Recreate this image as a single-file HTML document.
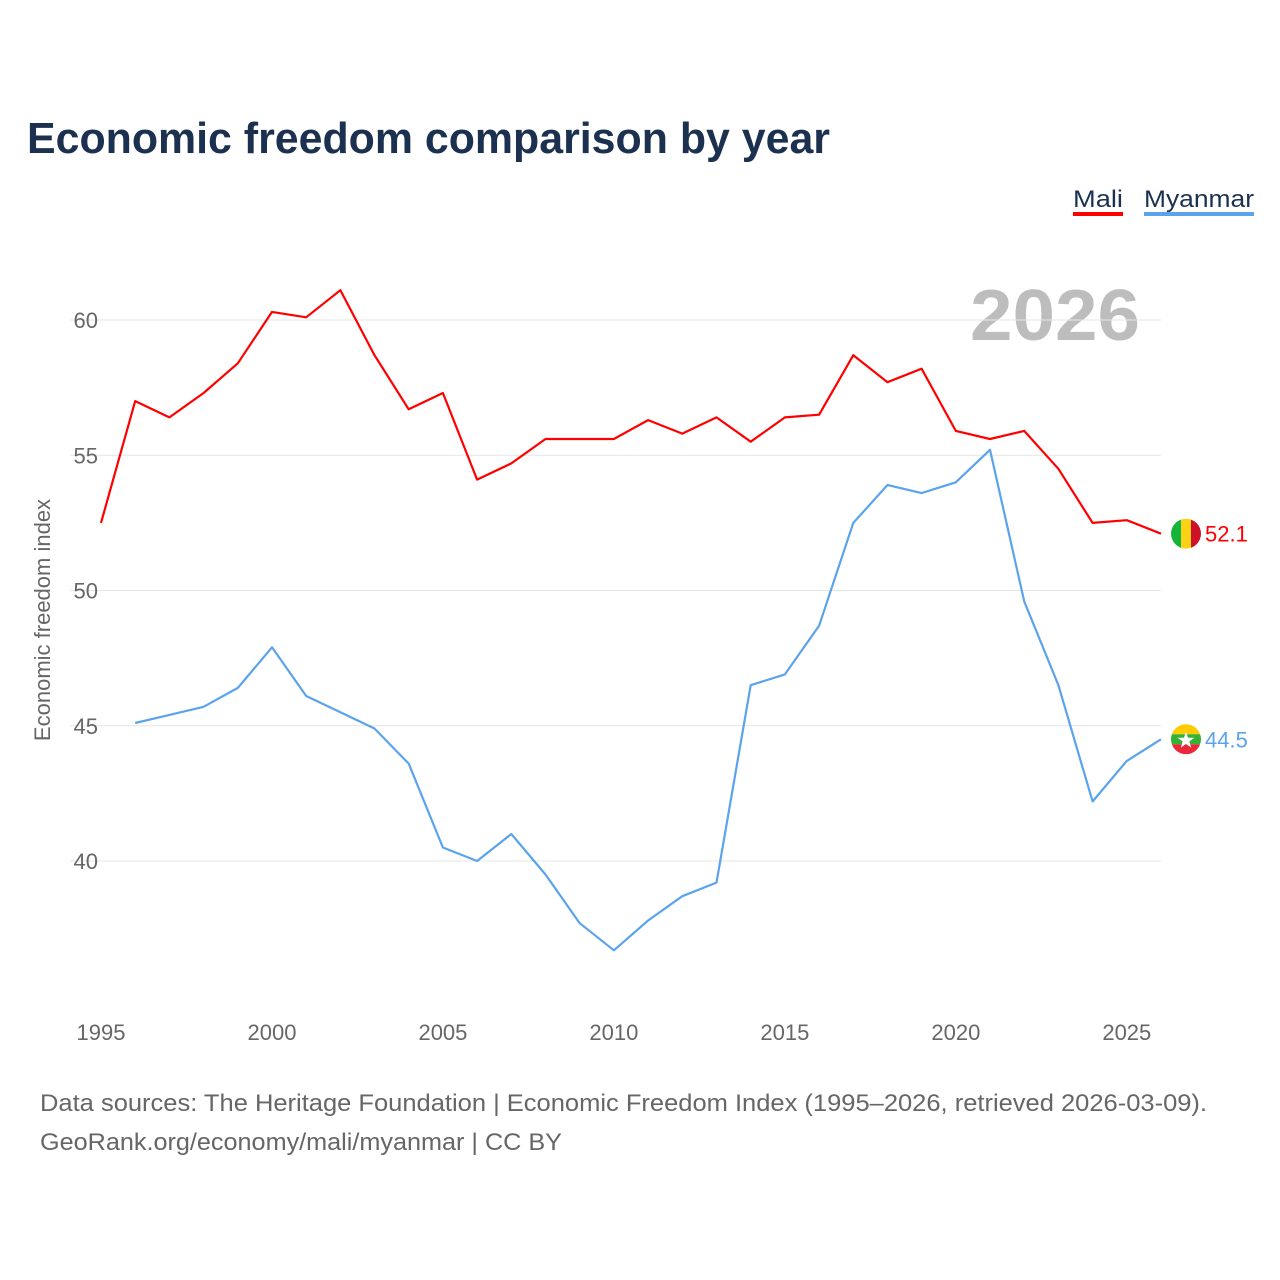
<!DOCTYPE html>
<html><head><meta charset="utf-8">
<style>
html,body{margin:0;padding:0;background:#fff;width:1280px;height:1280px;overflow:hidden;font-family:"Liberation Sans",sans-serif;}
</style></head>
<body>
<svg id="chart" width="1280" height="1280" xmlns="http://www.w3.org/2000/svg" font-family="Liberation Sans, sans-serif">
<text x="27" y="153" font-size="44" font-weight="bold" fill="#1c3150" textLength="803" lengthAdjust="spacingAndGlyphs">Economic freedom comparison by year</text>
<g>
<g><text x="1073" y="207" font-size="24" fill="#1c3150" textLength="50" lengthAdjust="spacingAndGlyphs">Mali</text><rect x="1073" y="212" width="50" height="4" fill="#ff0000"/></g>
<g><text x="1144" y="207" font-size="24" fill="#1c3150" textLength="110" lengthAdjust="spacingAndGlyphs">Myanmar</text><rect x="1144" y="212" width="110" height="4" fill="#5ba3ec"/></g>
</g>
<text x="1140" y="340" font-size="72" font-weight="bold" fill="#bdbdbd" text-anchor="end" textLength="170" lengthAdjust="spacingAndGlyphs">2026</text>
<text transform="translate(50,620) rotate(-90)" font-size="22" fill="#666" text-anchor="middle">Economic freedom index</text>
<g id="grid"></g><g id="xt"></g><g id="series"></g>
<text x="40" y="1111" font-size="24" fill="#666" textLength="1167" lengthAdjust="spacingAndGlyphs">Data sources: The Heritage Foundation | Economic Freedom Index (1995–2026, retrieved 2026-03-09).</text>
<text x="40" y="1150" font-size="24" fill="#666" textLength="522" lengthAdjust="spacingAndGlyphs">GeoRank.org/economy/mali/myanmar | CC BY</text>
</svg>
<script>
const years=[1995,1996,1997,1998,1999,2000,2001,2002,2003,2004,2005,2006,2007,2008,2009,2010,2011,2012,2013,2014,2015,2016,2017,2018,2019,2020,2021,2022,2023,2024,2025,2026];
const mali=[52.5,57.0,56.4,57.3,58.4,60.3,60.1,61.1,58.7,56.7,57.3,54.1,54.7,55.6,55.6,55.6,56.3,55.8,56.4,55.5,56.4,56.5,58.7,57.7,58.2,55.9,55.6,55.9,54.5,52.5,52.6,52.1];
const myanmar=[null,45.1,45.4,45.7,46.4,47.9,46.1,45.5,44.9,43.6,40.5,40.0,41.0,39.5,37.7,36.7,37.8,38.7,39.2,46.5,46.9,48.7,52.5,53.9,53.6,54.0,55.2,49.6,46.5,42.2,43.7,44.5];
const yTicks=[40,45,50,55,60];
const xTicks=[1995,2000,2005,2010,2015,2020,2025];
const NS="http://www.w3.org/2000/svg";
const x=v=>101+(v-1995)*(1161-101)/31;
const y=v=>320+(60-v)*27.05;
function mk(t,a,p){const e=document.createElementNS(NS,t);for(const k in a)e.setAttribute(k,a[k]);p.appendChild(e);return e;}
const grid=document.getElementById('grid');
yTicks.forEach(v=>{
 const l=mk('line',{x1:70,x2:1161,y1:y(v),y2:y(v),stroke:'#e6e6e6','stroke-width':1},grid);
 
 
 const t=mk('text',{x:98,y:y(v)+8,'font-size':22,fill:'#666','text-anchor':'end'},grid);t.textContent=v;
 
 
});
const xt=document.getElementById('xt');
xTicks.forEach(v=>{
 const t=mk('text',{x:x(v),y:1040,'font-size':22,fill:'#666','text-anchor':'middle'},xt);t.textContent=v;
 
 
});
const sg=document.getElementById('series');
function line(data,color,name){
 let d='';data.forEach((v,i)=>{if(v==null)return;d+=(d?'L':'M')+x(years[i]).toFixed(1)+','+y(v).toFixed(1);});
 const p=mk('path',{d:d,fill:'none',stroke:color,'stroke-width':2.2,'stroke-linejoin':'round'},sg);
 
 
 const last=data[data.length-1];
 const t=mk('text',{x:1205,y:y(last)+8,'font-size':22,fill:color},sg);t.textContent=last.toFixed(1);
 
 
 return y(last);
}
const ym=line(mali,'#ff0000','mali');
const yy=line(myanmar,'#5ba3ec','myanmar');
const f1=mk('g',{},sg);


const cp1=mk('clipPath',{id:'c1'},f1);mk('circle',{cx:1186,cy:ym,r:15},cp1);
const g1=mk('g',{'clip-path':'url(#c1)'},f1);
mk('rect',{x:1171,y:ym-15,width:10,height:30,fill:'#14b53a'},g1);
mk('rect',{x:1181,y:ym-15,width:10,height:30,fill:'#fcd116'},g1);
mk('rect',{x:1191,y:ym-15,width:10,height:30,fill:'#ce1126'},g1);
const f2=mk('g',{},sg);


const cp2=mk('clipPath',{id:'c2'},f2);mk('circle',{cx:1186,cy:yy,r:15},cp2);
const g2=mk('g',{'clip-path':'url(#c2)'},f2);
mk('rect',{x:1171,y:yy-15,width:30,height:10,fill:'#fecb00'},g2);
mk('rect',{x:1171,y:yy-5,width:30,height:10,fill:'#34b233'},g2);
mk('rect',{x:1171,y:yy+5,width:30,height:10,fill:'#ea2839'},g2);
mk('text',{x:1186,y:yy+8,'font-size':22,fill:'#fff','text-anchor':'middle'},g2).textContent='★';
</script>
</body></html>
